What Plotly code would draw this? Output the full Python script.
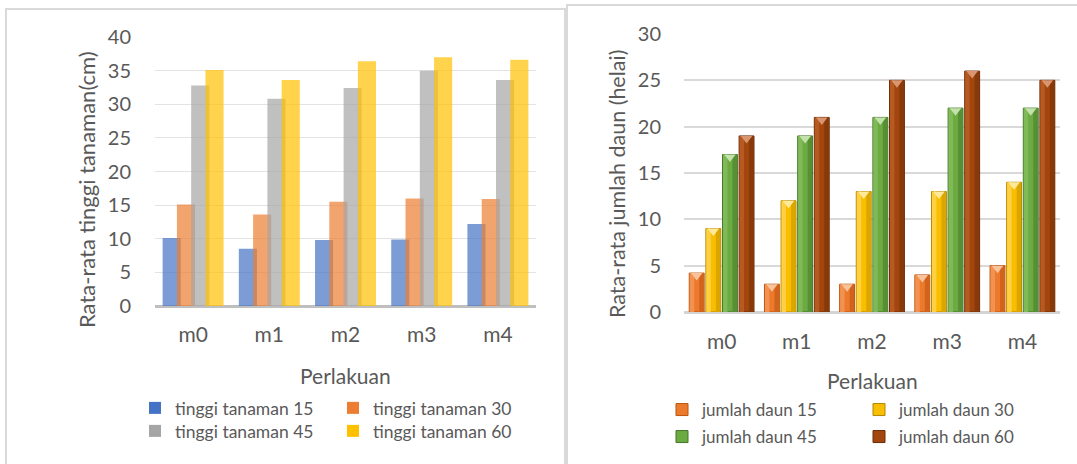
import numpy as np
import plotly.graph_objects as go

# data
categories = ['m0', 'm1', 'm2', 'm3', 'm4']

tinggi_15 = [10.1, 8.5, 9.8, 9.9, 12.2]
tinggi_30 = [15.1, 13.6, 15.5, 16.0, 15.9]
tinggi_45 = [32.8, 30.8, 32.4, 35.0, 33.6]
tinggi_60 = [35.1, 33.6, 36.4, 37.0, 36.6]

daun_15 = [4.2, 3, 3, 4, 5]
daun_30 = [9, 12, 13, 13, 14]
daun_45 = [17, 19, 21, 22, 22]
daun_60 = [19, 21, 25, 26, 25]

W, H = 1077, 464
FONT = 'Lato, Noto Sans, sans-serif'
TXT = '#595959'
x_idx = np.arange(len(categories))


def px_x(p):
    return p / W


def px_y(p):
    return 1 - p / H


fig = go.Figure()

# ---- left chart: tinggi tanaman (overlapping, semi transparent bars)
left_series = [
    ('tinggi tanaman 15', tinggi_15, '#4472C4', 'legend'),
    ('tinggi tanaman 30', tinggi_30, '#ED7D31', 'legend'),
    ('tinggi tanaman 45', tinggi_45, '#A5A5A5', 'legend2'),
    ('tinggi tanaman 60', tinggi_60, '#FFC000', 'legend2'),
]
left_offsets = [-0.4, -0.2125, -0.025, 0.1625]
left_width = 0.2375

for (name, vals, col, leg), off in zip(left_series, left_offsets):
    fig.add_trace(go.Bar(
        x=x_idx, y=vals, name=name, offset=off, width=left_width,
        marker=dict(color=col, opacity=0.7, line=dict(width=0)),
        xaxis='x', yaxis='y', legend=leg,
    ))

# ---- right chart: jumlah daun (bevelled bars with light caps)
# name, values, main, light side, dark side, edge, cap, legend
right_series = [
    ('jumlah daun 15', daun_15, '#EC7A2C', '#F39150', '#D2631C', '#B8540F', '#F9C29A', 'legend3'),
    ('jumlah daun 30', daun_30, '#F9BE00', '#FFD044', '#DBA600', '#B08600', '#FFEA9A', 'legend3'),
    ('jumlah daun 45', daun_45, '#6CAA42', '#80BA58', '#578F34', '#45752A', '#C3E2AA', 'legend4'),
    ('jumlah daun 60', daun_60, '#A2460E', '#B65A22', '#88390A', '#6A2C07', '#D99570', 'legend4'),
]
right_offsets = [-0.43, -0.209, 0.012, 0.233]
right_width = 0.198
side = 0.3  # share of the bar width given to the lit / shaded sides

right_dom_y = [px_y(312), px_y(34)]
right_ymax = 30
px_per_unit = (right_dom_y[1] - right_dom_y[0]) * H / right_ymax
cap_size = 10
cap_shift = (cap_size / 4) / px_per_unit

for (name, vals, col, lit, shade, edge, cap, leg), off in zip(right_series, right_offsets):
    fig.add_trace(go.Bar(
        x=x_idx, y=vals, name=name, offset=off, width=right_width,
        marker=dict(color=col, line=dict(color=edge, width=1)),
        xaxis='x2', yaxis='y2', legend=leg,
    ))
    fig.add_trace(go.Bar(
        x=x_idx, y=vals, offset=off + 0.006, width=right_width * side,
        marker=dict(color=lit, line=dict(width=0)), showlegend=False,
        hoverinfo='skip', xaxis='x2', yaxis='y2',
    ))
    fig.add_trace(go.Bar(
        x=x_idx, y=vals, offset=off + right_width * (1 - side) - 0.006,
        width=right_width * side,
        marker=dict(color=shade, line=dict(width=0)), showlegend=False,
        hoverinfo='skip', xaxis='x2', yaxis='y2',
    ))
    fig.add_trace(go.Scatter(
        x=x_idx + off + right_width / 2, y=np.array(vals) - cap_shift,
        mode='markers', showlegend=False, hoverinfo='skip',
        marker=dict(symbol='triangle-down', size=cap_size, color=cap,
                    line=dict(width=0)),
        xaxis='x2', yaxis='y2',
    ))

axis_common = dict(showline=False, ticks='', automargin=False,
                   tickfont=dict(family=FONT, size=20, color=TXT))

fig.update_layout(
    width=W, height=H,
    margin=dict(l=0, r=0, t=0, b=0, autoexpand=False),
    paper_bgcolor='white', plot_bgcolor='white',
    barmode='overlay',
    showlegend=True,
    xaxis=dict(domain=[px_x(155), px_x(536)], range=[-0.5, 4.5],
               tickvals=x_idx, ticktext=categories, showgrid=False,
               zeroline=False, ticks='', ticklabelstandoff=14, automargin=False,
               tickfont=dict(family=FONT, size=21, color=TXT), anchor='y'),
    yaxis=dict(domain=[px_y(306), px_y(37)], range=[0, 40], dtick=5,
               gridcolor='#E3E3E3', gridwidth=1, zeroline=True,
               zerolinecolor='#BFBFBF', zerolinewidth=3,
               ticklabelstandoff=23, anchor='x', **axis_common),
    xaxis2=dict(domain=[px_x(684), px_x(1060)], range=[-0.5, 4.5],
                tickvals=x_idx, ticktext=categories, showgrid=False,
                zeroline=False, ticks='', ticklabelstandoff=15, automargin=False,
                tickfont=dict(family=FONT, size=21, color=TXT), anchor='y2'),
    yaxis2=dict(domain=right_dom_y, range=[0, right_ymax], dtick=5,
                gridcolor='#D9D9D9', gridwidth=1.5, zeroline=True,
                zerolinecolor='#D4D4D4', zerolinewidth=2.5,
                ticklabelstandoff=22, anchor='x2', **axis_common),
)

leg_common = dict(orientation='h', xanchor='left', yanchor='middle',
                  bgcolor='rgba(0,0,0,0)', borderwidth=0,
                  entrywidthmode='pixels')
fig.update_layout(
    legend=dict(x=px_x(135), y=px_y(408), entrywidth=153,
                font=dict(family=FONT, size=17.5, color=TXT), **leg_common),
    legend2=dict(x=px_x(135), y=px_y(431), entrywidth=153,
                 font=dict(family=FONT, size=17.5, color=TXT), **leg_common),
    legend3=dict(x=px_x(662), y=px_y(410), entrywidth=152,
                 font=dict(family=FONT, size=17, color=TXT), **leg_common),
    legend4=dict(x=px_x(662), y=px_y(437), entrywidth=152,
                 font=dict(family=FONT, size=17, color=TXT), **leg_common),
)

# axis titles
titles = [
    ('Rata-rata tinggi tanaman(cm)', 86, 190, -90, 22),
    ('Rata-rata jumlah daun (helai)', 617, 184, -90, 21.5),
    ('Perlakuan', 345, 375, 0, 21),
    ('Perlakuan', 872, 380, 0, 21),
]
for text, tx, ty, ang, fs in titles:
    fig.add_annotation(text=text, x=px_x(tx), y=px_y(ty), xref='paper', yref='paper',
                       showarrow=False, textangle=ang, xanchor='center', yanchor='middle',
                       font=dict(family=FONT, size=fs, color=TXT))

# chart frames
frame = dict(color='#D9D9D9', width=2)
fig.add_shape(type='path', xref='paper', yref='paper', line=frame,
              path=f'M {px_x(6)},{px_y(480)} L {px_x(6)},{px_y(9)} '
                   f'L {px_x(565)},{px_y(9)} L {px_x(565)},{px_y(480)}')
fig.add_shape(type='path', xref='paper', yref='paper', line=frame,
              path=f'M {px_x(567)},{px_y(480)} L {px_x(567)},{px_y(5)} '
                   f'L {px_x(1090)},{px_y(5)}')

# drop the default page margin so the figure sits at the window corner
fig.write_html("out.html", config={'displayModeBar': False},
               post_script="document.body.style.margin='0';document.body.style.overflow='hidden';")
